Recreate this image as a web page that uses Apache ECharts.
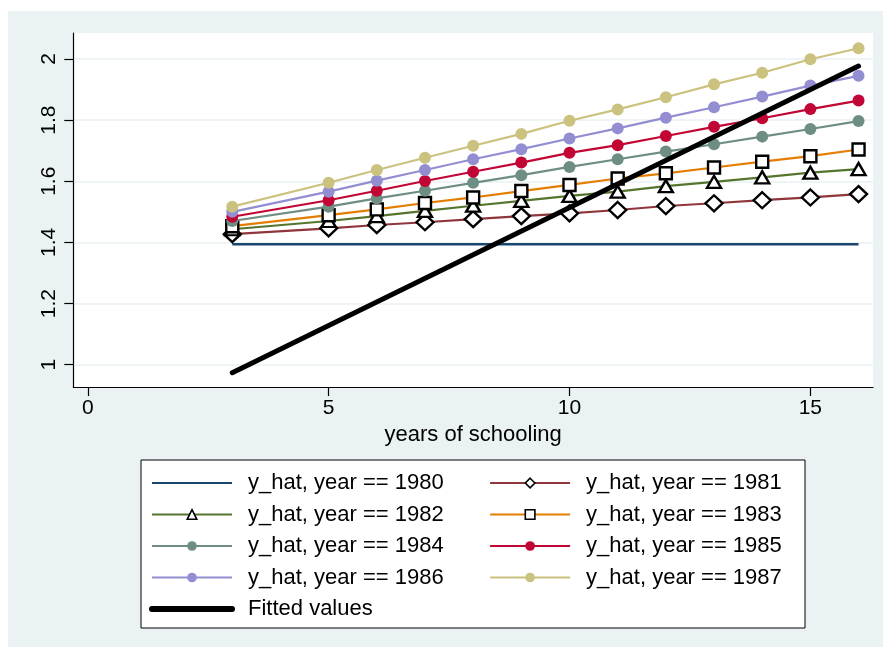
<!DOCTYPE html>
<html>
<head>
<meta charset="utf-8">
<script src="https://cdn.jsdelivr.net/npm/echarts@6/dist/echarts.min.js"></script>
<style>html,body{margin:0;padding:0;background:#fff}#c{width:885px;height:650px}</style>
</head>
<body>
<div id="c"></div>
<script>
// ---- data ----
const schooling = [3, 5, 6, 7, 8, 9, 10, 11, 12, 13, 14, 15, 16];
const y1980 = [1.394, 1.394, 1.394, 1.394, 1.394, 1.394, 1.394, 1.394, 1.394, 1.394, 1.394, 1.394, 1.394];
const y1981 = [1.427, 1.446, 1.457, 1.466, 1.476, 1.486, 1.495, 1.506, 1.519, 1.528, 1.538, 1.547, 1.558];
const y1982 = [1.443, 1.470, 1.486, 1.503, 1.520, 1.536, 1.552, 1.566, 1.584, 1.598, 1.613, 1.628, 1.640];
const y1983 = [1.453, 1.489, 1.508, 1.529, 1.547, 1.568, 1.588, 1.609, 1.626, 1.645, 1.664, 1.682, 1.704];
const y1984 = [1.470, 1.517, 1.544, 1.569, 1.595, 1.620, 1.647, 1.672, 1.697, 1.721, 1.746, 1.771, 1.797];
const y1985 = [1.484, 1.538, 1.569, 1.601, 1.631, 1.661, 1.693, 1.718, 1.748, 1.778, 1.806, 1.836, 1.864];
const y1986 = [1.500, 1.566, 1.602, 1.637, 1.672, 1.705, 1.740, 1.773, 1.808, 1.842, 1.877, 1.913, 1.945];
const y1987 = [1.517, 1.595, 1.637, 1.677, 1.716, 1.755, 1.798, 1.835, 1.875, 1.917, 1.955, 1.999, 2.035];
const fittedX = [3, 16];
const fittedY = [0.974, 1.977];
const xTicks = [0, 5, 10, 15];
const yTicks = [1, 1.2, 1.4, 1.6, 1.8, 2];
const seriesNames = [
  'y_hat, year == 1980', 'y_hat, year == 1981', 'y_hat, year == 1982', 'y_hat, year == 1983',
  'y_hat, year == 1984', 'y_hat, year == 1985', 'y_hat, year == 1986', 'y_hat, year == 1987'
];
const fittedName = 'Fitted values';
const xTitle = 'years of schooling';

// ---- styling ----
const FONT = 'Liberation Sans, Arial, Helvetica, sans-serif';
const colors = ['#1a476f', '#90353b', '#55752f', '#e37e00', '#6e8e84', '#c10534', '#938dd2', '#cac27e'];
const yearValues = [y1980, y1981, y1982, y1983, y1984, y1985, y1986, y1987];
const symbolDefs = [
  {symbol: 'none', size: 0, hollow: false},
  {symbol: 'diamond', size: [17, 16], hollow: true},
  {symbol: 'triangle', size: [14, 12], hollow: true},
  {symbol: 'rect', size: [12, 12], hollow: true},
  {symbol: 'circle', size: 12, hollow: false},
  {symbol: 'circle', size: 12, hollow: false},
  {symbol: 'circle', size: 12, hollow: false},
  {symbol: 'circle', size: 12, hollow: false}
];

const pair = (xs, ys) => xs.map((x, i) => [x, ys[i]]);

const series = yearValues.map((vals, i) => {
  const d = symbolDefs[i];
  return {
    name: seriesNames[i],
    type: 'line',
    data: pair(schooling, vals),
    symbol: d.symbol === 'none' ? 'circle' : d.symbol,
    symbolSize: d.size,
    showSymbol: d.symbol !== 'none',
    lineStyle: {color: colors[i], width: i === 0 ? 2.4 : 2.2},
    itemStyle: d.hollow
      ? {color: '#ffffff', borderColor: '#000000', borderWidth: 2.4}
      : {color: colors[i], borderWidth: 0},
    emphasis: {disabled: true},
    z: 2 + i
  };
});
series.push({
  name: fittedName,
  type: 'line',
  data: pair(fittedX, fittedY),
  symbol: 'circle',
  symbolSize: 0,
  showSymbol: false,
  lineStyle: {color: '#000000', width: 5, cap: 'round'},
  itemStyle: {color: '#000000'},
  emphasis: {disabled: true},
  z: 20
});

const legendItem = (name, i) => {
  const isFit = name === fittedName;
  const it = {name: name, lineStyle: {width: isFit ? 6 : 2.2}};
  if (i === 0 || isFit) it.itemStyle = {opacity: 0};
  else if (symbolDefs[i] && symbolDefs[i].hollow) it.itemStyle = {color: '#ffffff', borderColor: '#000000', borderWidth: 1.6};
  return it;
};

const legendCommon = {
  orient: 'vertical',
  top: 472,
  padding: 0,
  itemWidth: 80,
  itemHeight: 12,
  itemGap: 9.5,
  selectedMode: false,
  textStyle: {fontFamily: FONT, fontSize: 22, color: '#000', lineHeight: 22, padding: [0, 0, 0, 11]}
};

const chart = echarts.init(document.getElementById('c'), null, {renderer: 'canvas'});
chart.setOption({
  animation: false,
  backgroundColor: '#ffffff',
  graphic: [
    {type: 'rect', z: -10, silent: true, shape: {x: 8, y: 11, width: 875, height: 636}, style: {fill: '#eaf2f3'}},
    {type: 'rect', z: 1, silent: true, shape: {x: 141, y: 460, width: 664, height: 168}, style: {fill: '#ffffff', stroke: '#000000', lineWidth: 1}}
  ],
  grid: {left: 73.3, top: 33, right: 12, bottom: 263, show: true, backgroundColor: '#ffffff', borderWidth: 0},
  xAxis: {
    type: 'value', min: -0.3, max: 16.3,
    name: xTitle, nameLocation: 'middle', nameGap: 37,
    nameTextStyle: {fontFamily: FONT, fontSize: 22, color: '#000'},
    axisLine: {show: true, onZero: false, lineStyle: {color: '#000', width: 1.2}},
    axisTick: {show: true, length: 9, customValues: xTicks, lineStyle: {color: '#000', width: 1.2}},
    axisLabel: {customValues: xTicks, margin: 11, fontFamily: FONT, fontSize: 21, color: '#000'},
    splitLine: {show: false}
  },
  yAxis: {
    type: 'value', min: 0.927, max: 2.085,
    axisLine: {show: true, onZero: false, lineStyle: {color: '#000', width: 1.2}},
    axisTick: {show: true, length: 9, customValues: yTicks, lineStyle: {color: '#000', width: 1.2}},
    axisLabel: {customValues: yTicks, rotate: 90, margin: 14, fontFamily: FONT, fontSize: 21, color: '#000'},
    splitLine: {show: true, lineStyle: {color: '#eaf2f3', width: 1.5}}
  },
  legend: [
    Object.assign({}, legendCommon, {
      left: 149,
      data: [0, 2, 4, 6].map(i => legendItem(seriesNames[i], i)).concat([legendItem(fittedName, 8)])
    }),
    Object.assign({}, legendCommon, {
      left: 489,
      data: [1, 3, 5, 7].map(i => legendItem(seriesNames[i], i))
    })
  ],
  series: series
});
</script>
</body>
</html>
